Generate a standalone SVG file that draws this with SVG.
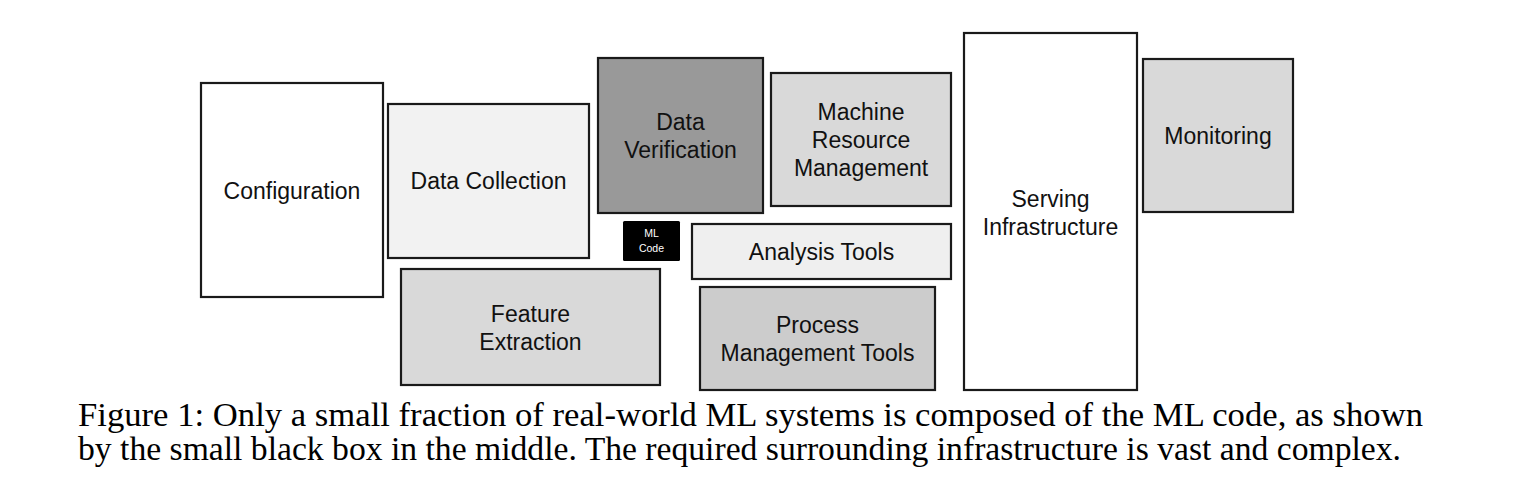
<svg xmlns="http://www.w3.org/2000/svg" width="1526" height="502" viewBox="0 0 1526 502">
<style>
.box{stroke:#1a1a1a;stroke-width:2.2}
.lbl{font-family:"Liberation Sans",Arial,sans-serif;font-size:23px;fill:#111;text-anchor:middle}
.sm{font-family:"Liberation Sans",Arial,sans-serif;font-size:10.5px;fill:#fff;text-anchor:middle}
.cap{font-family:"Liberation Serif","Times New Roman",Times,serif;font-size:33px;fill:#000}
</style>
<rect width="1526" height="502" fill="#fff"/>
<g id="configuration"><rect class="box" x="201" y="83" width="182" height="214" fill="#fff"/><text class="lbl" x="292" y="199">Configuration</text></g>
<g id="data-collection"><rect class="box" x="388" y="104" width="201" height="154" fill="#f2f2f2"/><text class="lbl" x="488.5" y="189">Data Collection</text></g>
<g id="data-verification"><rect class="box" x="598" y="58" width="165" height="155" fill="#999"/><text class="lbl" x="680.5" y="130">Data</text><text class="lbl" x="680.5" y="158">Verification</text></g>
<g id="machine-resource-management"><rect class="box" x="771" y="73" width="180" height="133" fill="#d9d9d9"/><text class="lbl" x="861" y="120">Machine</text><text class="lbl" x="861" y="148">Resource</text><text class="lbl" x="861" y="176">Management</text></g>
<g id="ml-code"><rect x="623" y="221" width="57" height="40" rx="1.5" fill="#000"/><text class="sm" x="651.5" y="237">ML</text><text class="sm" x="651.5" y="252">Code</text></g>
<g id="analysis-tools"><rect class="box" x="692" y="224" width="259" height="55" fill="#efefef"/><text class="lbl" x="821.5" y="260">Analysis Tools</text></g>
<g id="feature-extraction"><rect class="box" x="401" y="269" width="259" height="116" fill="#d9d9d9"/><text class="lbl" x="530.5" y="322">Feature</text><text class="lbl" x="530.5" y="350">Extraction</text></g>
<g id="process-management-tools"><rect class="box" x="700" y="287" width="235" height="103" fill="#ccc"/><text class="lbl" x="817.5" y="333">Process</text><text class="lbl" x="817.5" y="361">Management Tools</text></g>
<g id="serving-infrastructure"><rect class="box" x="964" y="33" width="173" height="357" fill="#fff"/><text class="lbl" x="1050.5" y="207">Serving</text><text class="lbl" x="1050.5" y="235">Infrastructure</text></g>
<g id="monitoring"><rect class="box" x="1143" y="59" width="150" height="153" fill="#d9d9d9"/><text class="lbl" x="1218" y="144">Monitoring</text></g>
<g id="connectors"></g>
<g id="caption">
<text class="cap" x="78" y="426" textLength="1345" lengthAdjust="spacingAndGlyphs">Figure 1: Only a small fraction of real-world ML systems is composed of the ML code, as shown</text>
<text class="cap" x="78" y="460" textLength="1323" lengthAdjust="spacingAndGlyphs">by the small black box in the middle. The required surrounding infrastructure is vast and complex.</text>
</g>
</svg>
